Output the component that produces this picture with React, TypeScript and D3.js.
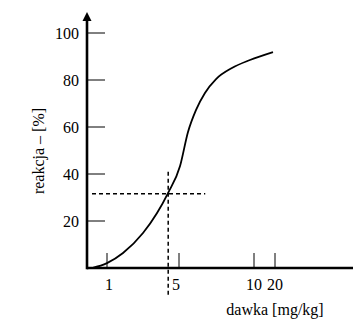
import React from "react";
import * as d3 from "d3";

// dose positions on the (non-uniform) x axis
const DOSE_TICKS = [1, 5, 10, 20];
const RESPONSE_TICKS = [20, 40, 60, 80, 100];

// curve: dose [mg/kg], response [%]
const DOSE = [0.25, 1, 1.89, 3, 3.78, 4.39, 5.07, 5.6, 6.13, 6.73, 7.47, 8.53, 9.73, 19.05];
const RESPONSE = [0, 2.1, 6.4, 14.9, 23.4, 31.9, 43.4, 57.9, 67.2, 74.5, 80.4, 85.1, 88.5, 91.9];

// dashed read-off lines
const CROSS_DOSE = 4.4;
const CROSS_RESPONSE = 31.6;

const W = 354;
const H = 322;
const FONT = "'Liberation Serif', 'Times New Roman', serif";
const FS = 16;

export default function App() {
  const x0 = 87;
  const y0 = 268;

  // piecewise scale, the dose axis is not linear
  const x = d3
    .scaleLinear()
    .domain([0, 1, 5, 10, 20])
    .range([x0, x0 + 20, x0 + 92, x0 + 167, x0 + 188]);
  const y = d3.scaleLinear().domain([0, 100]).range([y0, 33]);

  const pts: [number, number][] = DOSE.map((d, i) => [x(d), y(RESPONSE[i])]);
  const line = d3.line().curve(d3.curveMonotoneX)(pts) || "";

  const xEnd = 353;
  const yTop = 12;

  return (
    <svg
      width={W}
      height={H}
      style={{ position: "absolute", left: 0, top: 0, background: "#fff" }}
      fontFamily={FONT}
    >
      {/* axes */}
      <line x1={x0} y1={y0} x2={xEnd} y2={y0} stroke="#000" strokeWidth={2.6} />
      <line x1={x0} y1={y0 + 1.3} x2={x0} y2={yTop + 6} stroke="#000" strokeWidth={2.6} />
      <path d={`M${x0},${yTop} L${x0 - 4.5},${yTop + 9} L${x0 + 4.5},${yTop + 9} Z`} fill="#000" />

      {/* y ticks */}
      {RESPONSE_TICKS.map((t) => (
        <g key={t}>
          <line x1={x0} x2={x0 + 18} y1={y(t)} y2={y(t)} stroke="#000" strokeWidth={1} />
          <text x={79} y={y(t)} dy="0.35em" textAnchor="end" fontSize={FS}>
            {t}
          </text>
        </g>
      ))}

      {/* x ticks */}
      {DOSE_TICKS.map((t) => (
        <g key={t}>
          <line x1={x(t)} x2={x(t)} y1={y0} y2={y0 - 15} stroke="#000" strokeWidth={1} />
          <text x={x(t) - (t === 5 ? 3 : t === 1 ? -2 : 0)} y={290} textAnchor="middle" fontSize={FS}>
            {t}
          </text>
        </g>
      ))}

      {/* dashed read-off lines */}
      <line
        x1={x(0.25)}
        x2={x(6.75)}
        y1={y(CROSS_RESPONSE)}
        y2={y(CROSS_RESPONSE)}
        stroke="#000"
        strokeWidth={1.5}
        strokeDasharray="4 3"
      />
      <line
        x1={x(CROSS_DOSE)}
        x2={x(CROSS_DOSE)}
        y1={y(41)}
        y2={y(-11.5)}
        stroke="#000"
        strokeWidth={1.5}
        strokeDasharray="4 3"
      />

      {/* curve */}
      <path d={line} fill="none" stroke="#000" strokeWidth={1.8} />

      {/* labels */}
      <text transform={`translate(44,151) rotate(-90)`} textAnchor="middle" fontSize={FS}>
        reakcja – [%]
      </text>
      <text x={275} y={315} textAnchor="middle" fontSize={FS}>
        dawka [mg/kg]
      </text>
    </svg>
  );
}
